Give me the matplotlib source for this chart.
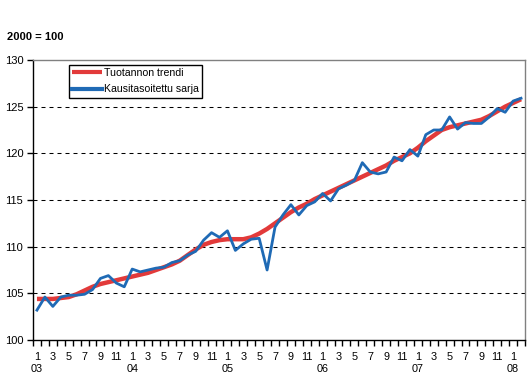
import numpy as np
import matplotlib
matplotlib.use("Agg")
import matplotlib.pyplot as plt

plt.rcParams['font.family'] = ['Liberation Sans', 'DejaVu Sans']

# Monthly index, 2003-01 .. 2008-02 (2000 = 100)
trend = [104.4, 104.4, 104.4, 104.5, 104.6, 104.9, 105.3, 105.7, 106.0, 106.2,
         106.4, 106.6, 106.8, 107.0, 107.2, 107.5, 107.8, 108.1, 108.5, 109.1,
         109.7, 110.2, 110.5, 110.7, 110.8, 110.8, 110.8, 111.0, 111.4, 111.9,
         112.5, 113.1, 113.7, 114.2, 114.6, 115.1, 115.5, 115.9, 116.3, 116.7,
         117.1, 117.5, 117.9, 118.3, 118.7, 119.2, 119.6, 120.0, 120.6, 121.3,
         121.9, 122.5, 122.8, 123.0, 123.2, 123.4, 123.6, 124.0, 124.5, 125.0,
         125.4, 125.8]
seasonal = [103.2, 104.6, 103.6, 104.6, 104.8, 104.8, 104.9, 105.4, 106.6, 106.9,
            106.1, 105.7, 107.6, 107.3, 107.5, 107.7, 107.8, 108.3, 108.5, 109.1,
            109.5, 110.7, 111.5, 111.0, 111.7, 109.6, 110.3, 110.8, 110.9, 107.5,
            112.1, 113.4, 114.5, 113.4, 114.4, 114.8, 115.7, 114.9, 116.2, 116.6,
            117.1, 119.0, 118.0, 117.8, 118.0, 119.6, 119.2, 120.4, 119.7, 122.0,
            122.5, 122.5, 123.9, 122.6, 123.3, 123.2, 123.2, 123.9, 124.8, 124.4,
            125.6, 125.9]
month_labels = ["1", "3", "5", "7", "9", "11"]
year_labels = ["03", "04", "05", "06", "07", "08"]
series_names = ["Tuotannon trendi", "Kausitasoitettu sarja"]
y_ticks = [100, 105, 110, 115, 120, 125, 130]

n = len(trend)
xpos = np.arange(n) + 0.5

fig = plt.figure(figsize=(5.3, 3.84), dpi=100)
ax = fig.add_axes([33 / 530, 44 / 384, 492 / 530, 280 / 384])

ax.plot(xpos, trend, color='#E23A3A', lw=3.2, solid_capstyle='butt', label=series_names[0], zorder=3)
ax.plot(xpos, seasonal, color='#1F6AB5', lw=2.0, label=series_names[1], zorder=4)

ax.set_xlim(0, n)
ax.set_ylim(100, 130)
ax.set_yticks(y_ticks)
ax.set_yticklabels([str(v) for v in y_ticks], fontsize=8)
ax.tick_params(axis='y', direction='out', length=4, width=1, pad=3, colors='black')

# month boundaries as tick marks
ax.set_xticks(np.arange(n + 1))
ax.set_xticklabels([])
ax.tick_params(axis='x', which='major', direction='out', length=4, width=1)

# labels at category centres, every second month
lab_pos = []
lab_txt = []
for i in range(0, n, 2):
    m = month_labels[(i % 12) // 2]
    if i % 12 == 0:
        lab_txt.append(m + "\n" + year_labels[i // 12])
    else:
        lab_txt.append(m)
    lab_pos.append(i + 0.5)
ax.set_xticks(lab_pos, minor=True)
ax.set_xticklabels(lab_txt, minor=True, fontsize=7.8, va='top', linespacing=1.2)
ax.tick_params(axis='x', which='minor', length=0, pad=9)

ax.grid(axis='y', color='black', linestyle=(0, (3.84, 3.84)), lw=0.75)
gl = ax.get_ygridlines()
gl[0].set_visible(False)
gl[-1].set_visible(False)

for s in ['top', 'right']:
    ax.spines[s].set_color('#808080')
    ax.spines[s].set_linewidth(1)
for s in ['left', 'bottom']:
    ax.spines[s].set_color('black')
    ax.spines[s].set_linewidth(1)

fig.text(7 / 530, 1 - 37 / 384, "2000 = 100", fontsize=8, fontweight='bold', va='center', ha='left')

leg = ax.legend(loc='upper left', bbox_to_anchor=(69 / 530, 1 - 65 / 384),
                bbox_transform=fig.transFigure, borderaxespad=0, fontsize=7.6,
                frameon=True, fancybox=False, edgecolor='black', framealpha=1,
                handlelength=2.85, handletextpad=0.15, labelspacing=0.6,
                borderpad=0.3)
leg.get_frame().set_linewidth(1)
for h in leg.get_lines():
    h.set_linewidth(3)

fig.savefig("out.png", dpi=100)
